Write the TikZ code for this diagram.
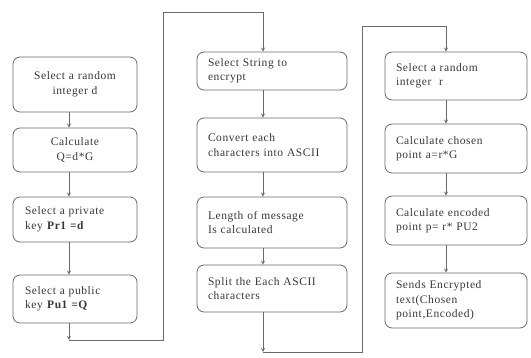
\documentclass[tikz,border=0pt]{standalone}
\usepackage{fontspec}
\setmainfont[LetterSpace=5]{Liberation Serif}
\usepackage{tikz}
\usetikzlibrary{arrows,shapes,positioning}
\usepackage{xcolor}
\definecolor{fcline}{RGB}{105,105,105}
\definecolor{fctext}{RGB}{55,55,55}
\tikzstyle{arrow} = [line width=0.8pt,->,>=stealth,color=fcline]
\tikzstyle{link} = [line width=0.8pt,color=fcline]
\tikzstyle{flowbox} = [rectangle, rounded corners=7pt, inner xsep=0pt, inner ysep=2pt, draw=fcline, line width=0.8pt, text=fctext, font=\fontsize{11.5}{14.5}\selectfont, align=left]
\tikzstyle{colL} = [minimum width=124pt, text width=100pt]
\tikzstyle{colM} = [minimum width=150pt, text width=128pt]
\tikzstyle{colR} = [minimum width=142pt, text width=120pt]

\begin{document}
\begin{tikzpicture}[x=1pt, y=-1pt]
\useasboundingbox (0,0) rectangle (531,358);
% Key generation
\node (rndd) [flowbox, colL, minimum height=55pt, align=center] at (75,84.5) {Select a random\\integer d};
\node (calcq) [flowbox, colL, below of=rndd, node distance=65.5pt, minimum height=44pt, align=center] {Calculate\\Q=d*G};
\node (priv) [flowbox, colL, below of=calcq, node distance=69.5pt, minimum height=45pt] {Select a private\\key \textbf{Pr1 =d}};
\node (pub) [flowbox, colL, below of=priv, node distance=79.5pt, minimum height=48pt] {Select a public\\key \textbf{Pu1 =Q}};

% Message preparation
\node (str) [flowbox, colM, minimum height=38pt] at (272,71) {Select String to\\encrypt};
\node (ascii) [flowbox, colM, below of=str, node distance=74pt, minimum height=54pt] {Convert each\\characters into ASCII};
\node (len) [flowbox, colM, below of=ascii, node distance=77.5pt, minimum height=51pt] {Length of message\\Is calculated};
\node (split) [flowbox, colM, below of=len, node distance=66pt, minimum height=47pt] {Split the Each ASCII\\characters};

% Encryption
\node (rndr) [flowbox, colR, minimum height=48pt] at (456,76) {Select a random\\integer \ r};
\node (chosen) [flowbox, colR, below of=rndr, node distance=72.5pt, minimum height=49pt] {Calculate chosen\\point a=r*G};
\node (enc) [flowbox, colR, below of=chosen, node distance=72pt, minimum height=49pt] {Calculate encoded\\point p= r* PU2};
\node (send) [flowbox, colR, below of=enc, node distance=80pt, minimum height=55pt] {Sends Encrypted\\text(Chosen\\point,Encoded)};

% Corners of the links between columns
\coordinate (lbot) at (69,340);
\coordinate (ltop) at (163,12);
\coordinate (mbot) at (263,352);
\coordinate (mtop) at (362,26);

\draw[arrow] ([xshift=-6pt]rndd.south) -- ([xshift=-6pt]calcq.north);
\draw[arrow] ([xshift=-6pt]calcq.south) -- ([xshift=-6pt]priv.north);
\draw[arrow] ([xshift=-6pt]priv.south) -- ([xshift=-6pt]pub.north);
\draw[arrow] ([xshift=-6pt]pub.south) -- (lbot);
\draw[arrow] (lbot) -| (ltop) -| ([xshift=-9pt]str.north);

\draw[arrow] ([xshift=-9pt]str.south) -- ([xshift=-9pt]ascii.north);
\draw[arrow] ([xshift=-9pt]ascii.south) -- ([xshift=-9pt]len.north);
\draw[arrow] ([xshift=-9pt]len.south) -- ([xshift=-9pt]split.north);
\draw[arrow] ([xshift=-9pt]split.south) -- (mbot);
\draw[arrow] (mbot) -| (mtop) -| ([xshift=-10pt]rndr.north);

\draw[arrow] ([xshift=-10pt]rndr.south) -- ([xshift=-10pt]chosen.north);
\draw[arrow] ([xshift=-10pt]chosen.south) -- ([xshift=-10pt]enc.north);
\draw[arrow] ([xshift=-10pt]enc.south) -- ([xshift=-10pt]send.north);
\end{tikzpicture}
\end{document}
